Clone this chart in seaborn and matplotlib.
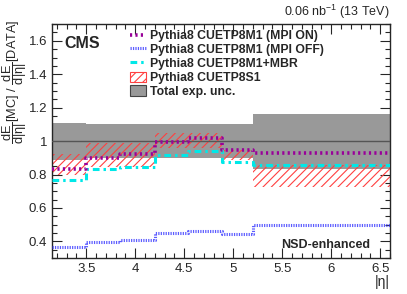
import matplotlib
matplotlib.use('Agg')
import matplotlib.pyplot as plt
from matplotlib.patches import Patch
from matplotlib.lines import Line2D
from matplotlib.ticker import MultipleLocator
import seaborn as sns

# |eta| bin edges
eta_edges = [3.152, 3.5, 3.85, 4.2, 4.54, 4.89, 5.2, 6.6]

# MC / DATA ratios per bin
mpi_on = [0.833, 0.897, 0.922, 0.996, 1.016, 0.946, 0.926]
mpi_off = [0.366, 0.398, 0.41, 0.448, 0.465, 0.443, 0.497]
mbr = [0.767, 0.833, 0.848, 0.916, 0.94, 0.876, 0.857]
s1_low = [0.797, 0.845, 0.846, 0.96, 0.96, 0.887, 0.727]
s1_high = [0.925, 0.988, 0.99, 1.05, 1.05, 0.946, 0.857]

# total experimental uncertainty band
unc_low = [0.89, 0.9, 0.9, 0.9, 0.9, 0.9, 0.835]
unc_high = [1.107, 1.1, 1.1, 1.1, 1.1, 1.105, 1.165]

labels = ['Pythia8 CUETP8M1 (MPI ON)', 'Pythia8 CUETP8M1 (MPI OFF)', 'Pythia8 CUETP8M1+MBR',
          'Pythia8 CUETP8S1', 'Total exp. unc.']
xticks = [3.5, 4, 4.5, 5, 5.5, 6, 6.5]
yticks = [0.4, 0.6, 0.8, 1, 1.2, 1.4, 1.6]

sns.set_style('ticks')
plt.rcParams['font.family'] = ['Liberation Sans', 'DejaVu Sans']
plt.rcParams['mathtext.fontset'] = 'custom'
plt.rcParams['mathtext.rm'] = 'Liberation Sans'
plt.rcParams['mathtext.it'] = 'Liberation Sans:italic'
plt.rcParams['hatch.linewidth'] = 0.8

fig = plt.figure(figsize=(4.07, 2.94), dpi=100)
ax = fig.add_axes([0.128, 0.122, 0.83, 0.796])


def step(v):
    return list(v) + [v[-1]]


on_style = dict(color='#990099', lw=2.6, linestyle=(0, (0.6, 0.9)))
off_style = dict(color='#3333ff', lw=2.2, linestyle=(0, (0.4, 0.4)), alpha=0.8)
mbr_style = dict(color='#00e8e8', lw=2.2, linestyle=(0, (2.2, 1.3, 0.8, 1.3)))

# grey band and hatched band
ax.fill_between(eta_edges, step(unc_low), step(unc_high), step='post',
                color='#999999', linewidth=0, zorder=1)
ax.fill_between(eta_edges, step(s1_low), step(s1_high), step='post',
                facecolor='none', edgecolor='#ff4040', hatch='////',
                linewidth=0, zorder=2)
ax.axhline(1.0, color='#555555', lw=1.0, zorder=3)

sns.lineplot(x=eta_edges, y=step(mpi_on), drawstyle='steps-post', ax=ax, zorder=5, **on_style)
sns.lineplot(x=eta_edges, y=step(mpi_off), drawstyle='steps-post', ax=ax, zorder=5, **off_style)
sns.lineplot(x=eta_edges, y=step(mbr), drawstyle='steps-post', ax=ax, zorder=4, **mbr_style)

ax.set_xlim(3.152, 6.6)
ax.set_ylim(0.3, 1.7)
ax.xaxis.set_minor_locator(MultipleLocator(0.1))
ax.yaxis.set_minor_locator(MultipleLocator(0.05))
ax.set_xticks(xticks)
ax.set_xticklabels([f'{t:g}' for t in xticks])
ax.set_yticks(yticks)
ax.set_yticklabels([f'{t:g}' for t in yticks])
ax.tick_params(which='both', direction='in', top=True, right=True, labelsize=9.5, width=0.8)
ax.tick_params(which='major', length=7)
ax.tick_params(which='minor', length=3.5)
for s in ax.spines.values():
    s.set_linewidth(1.0)

ax.set_xlabel('|η|', fontsize=10, loc='right', labelpad=0)
ax.set_ylabel('')
fig.text(0.036, 0.935,
         r'$\dfrac{\mathrm{dE}}{\mathrm{d|η|}}$[MC] / $\dfrac{\mathrm{dE}}{\mathrm{d|η|}}$[DATA]',
         fontsize=9.2, rotation=90, ha='center', va='top')

ax.text(0.035, 0.95, 'CMS', transform=ax.transAxes, fontsize=11.5, fontweight='bold',
        va='top', ha='left')
ax.text(0.94, 0.03, 'NSD-enhanced', transform=ax.transAxes, fontsize=9, fontweight='bold',
        va='bottom', ha='right')
ax.text(1.0, 1.015, r'0.06 nb$^{-1}$ (13 TeV)', transform=ax.transAxes, fontsize=9,
        va='bottom', ha='right')

handles = [
    Line2D([0], [0], **on_style),
    Line2D([0], [0], **off_style),
    Line2D([0], [0], **mbr_style),
    Patch(facecolor='white', edgecolor='#ff4040', hatch='////', lw=0.8),
    Patch(facecolor='#999999', edgecolor='#444444', lw=0.8),
]
ax.legend(handles, labels, loc='upper left', bbox_to_anchor=(0.231, 0.975), frameon=False,
          prop={'weight': 'bold', 'size': 8.8}, handlelength=1.3, handleheight=0.9,
          labelspacing=0.13, handletextpad=0.3, borderaxespad=0, borderpad=0)

fig.savefig('out.png', dpi=100)
